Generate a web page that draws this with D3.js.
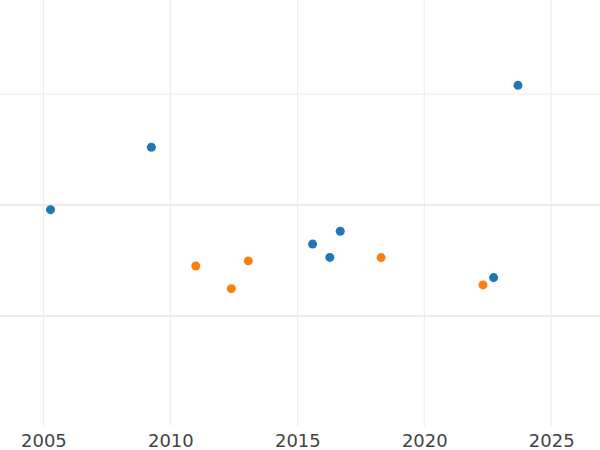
<!DOCTYPE html>
<html>
<head>
<meta charset="utf-8">
<script src="https://cdn.jsdelivr.net/npm/d3@7"></script>
<style>
  html, body { margin: 0; padding: 0; background: #fff; }
  svg { display: block; }
</style>
</head>
<body>
<svg id="chart" width="600" height="450"></svg>
<script>
const xTicks = [2005, 2010, 2015, 2020, 2025];
const yTicks = [0.5, 1.0, 1.5];

const blueX = [2005.28, 2009.25, 2015.6, 2016.28, 2016.69, 2022.73, 2023.69];
const blueY = [0.979, 1.260, 0.824, 0.764, 0.882, 0.673, 1.539];
const orangeX = [2011.0, 2012.4, 2013.07, 2018.3, 2022.31];
const orangeY = [0.725, 0.623, 0.748, 0.763, 0.640];

const W = 600, plotBottom = 426;
const svg = d3.select("#chart");

const x = d3.scaleLinear().domain([2003.29, 2026.92]).range([0, W]);
const y = d3.scaleLinear().domain([0.0045, 1.9234]).range([plotBottom, 0]);

// vertical grid
svg.append("g")
  .selectAll("line").data(xTicks).join("line")
  .attr("x1", d => x(d)).attr("x2", d => x(d))
  .attr("y1", 0).attr("y2", plotBottom)
  .attr("stroke", "#ebebeb").attr("stroke-width", 1);

// horizontal grid
svg.append("g")
  .selectAll("line").data(yTicks).join("line")
  .attr("x1", 0).attr("x2", W)
  .attr("y1", d => y(d)).attr("y2", d => y(d))
  .attr("stroke", "#ebebeb").attr("stroke-width", d => d === 1.5 ? 1 : 2);

// x axis labels
const xAxis = d3.axisBottom(x).tickValues(xTicks).tickFormat(d3.format("d")).tickSize(0).tickPadding(0);
const gx = svg.append("g").attr("transform", `translate(0,${plotBottom})`).call(xAxis);
gx.select(".domain").remove();
gx.selectAll("text")
  .attr("y", 21).attr("dy", 0)
  .attr("fill", "#444")
  .style("font-family", "DejaVu Sans")
  .style("font-size", "18px");

// points
const blue = blueX.map((v, i) => ({x: v, y: blueY[i]}));
const orange = orangeX.map((v, i) => ({x: v, y: orangeY[i]}));

svg.append("g").selectAll("circle").data(blue).join("circle")
  .attr("cx", d => x(d.x)).attr("cy", d => y(d.y)).attr("r", 4.5)
  .attr("fill", "#1f77b4");
svg.append("g").selectAll("circle").data(orange).join("circle")
  .attr("cx", d => x(d.x)).attr("cy", d => y(d.y)).attr("r", 4.5)
  .attr("fill", "#ff7f0e");
</script>
</body>
</html>
